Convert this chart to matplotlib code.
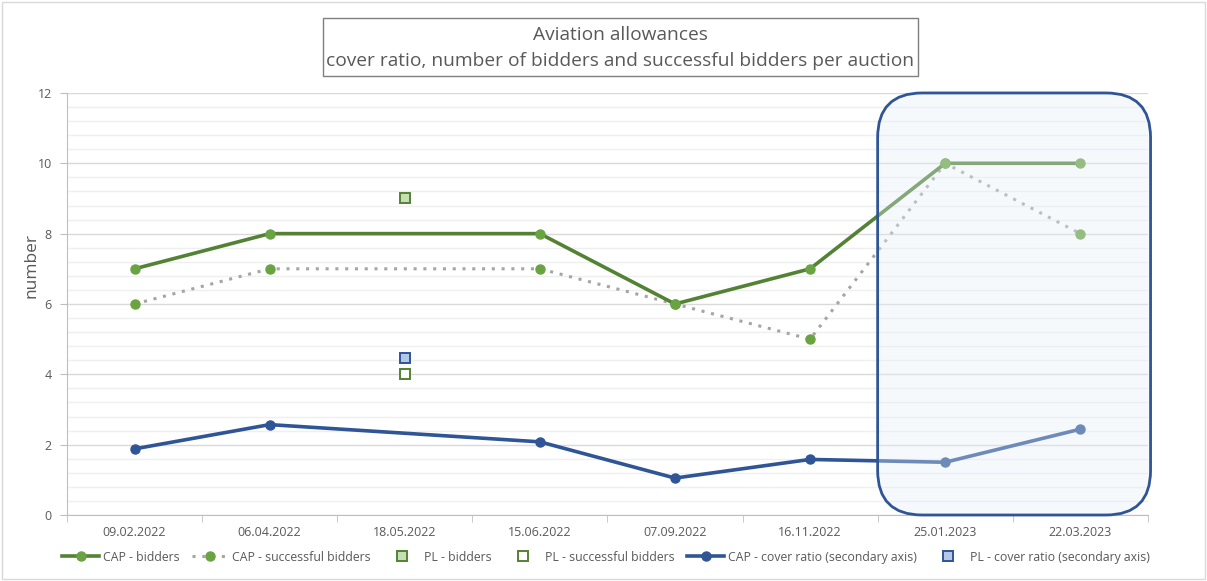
import numpy as np
import matplotlib.pyplot as plt
from matplotlib.patches import FancyBboxPatch, Rectangle
from matplotlib.ticker import MultipleLocator

plt.rcParams['font.family'] = ['Open Sans', 'DejaVu Sans']

# auction dates
dates = ['09.02.2022', '06.04.2022', '18.05.2022', '15.06.2022',
         '07.09.2022', '16.11.2022', '25.01.2023', '22.03.2023']

# CAP series (nan = no CAP auction)
cap_bidders = [7, 8, np.nan, 8, 6, 7, 10, 10]
cap_successful = [6, 7, np.nan, 7, 6, 5, 10, 8]
cap_cover = [1.88, 2.57, np.nan, 2.08, 1.05, 1.58, 1.50, 2.44]

# PL series (only one auction)
pl_bidders = [np.nan, np.nan, 9, np.nan, np.nan, np.nan, np.nan, np.nan]
pl_successful = [np.nan, np.nan, 4, np.nan, np.nan, np.nan, np.nan, np.nan]
pl_cover = [np.nan, np.nan, 4.45, np.nan, np.nan, np.nan, np.nan, np.nan]

green = '#548235'
green_m = '#6AA342'
blue = '#2F5597'
grey_txt = '#595959'

fig = plt.figure(figsize=(12.07, 5.81), dpi=100)
ax = fig.add_axes([0.0555, 0.1136, 0.8955, 0.7264])

x = np.arange(len(dates))


def valid(vals):
    v = np.array(vals, dtype=float)
    m = ~np.isnan(v)
    return x[m], v[m]


xs, ys = valid(cap_bidders)
h1, = ax.plot(xs, ys, color=green, lw=2.6, marker='o', ms=6.5,
              markerfacecolor=green_m, markeredgecolor=green_m, zorder=4,
              label='CAP - bidders')
xs, ys = valid(cap_successful)
h2, = ax.plot(xs, ys, color='#A5A5A5', lw=2.2, ls=(0, (1, 2.2)), marker='o', ms=6.5,
              markerfacecolor=green_m, markeredgecolor=green_m, zorder=3,
              label='CAP - successful bidders')
xs, ys = valid(pl_bidders)
h3, = ax.plot(xs, ys, ls='none', marker='s', ms=7.5, markerfacecolor='#C5E0B4',
              markeredgecolor=green, markeredgewidth=1.4, zorder=4, label='PL - bidders')
xs, ys = valid(pl_successful)
h4, = ax.plot(xs, ys, ls='none', marker='s', ms=7.5, markerfacecolor='white',
              markeredgecolor=green, markeredgewidth=1.4, zorder=4,
              label='PL - successful bidders')
xs, ys = valid(cap_cover)
h5, = ax.plot(xs, ys, color=blue, lw=2.6, marker='o', ms=6.5,
              markerfacecolor=blue, markeredgecolor=blue, zorder=4,
              label='CAP - cover ratio (secondary axis)')
xs, ys = valid(pl_cover)
h6, = ax.plot(xs, ys, ls='none', marker='s', ms=7.5, markerfacecolor='#B4C7E7',
              markeredgecolor=blue, markeredgewidth=1.4, zorder=4,
              label='PL - cover ratio (secondary axis)')

ax.set_xlim(-0.5, 7.5)
ax.set_ylim(0, 12)
ax.set_xticks(x)
ax.set_xticklabels(dates)
ax.set_xticks(np.arange(-0.5, 8, 1), minor=True)
ax.tick_params(axis='x', which='major', length=0, pad=8, labelsize=9, colors=grey_txt)
ax.tick_params(axis='x', which='minor', length=5, color='#BFBFBF', direction='out')
ax.yaxis.set_major_locator(MultipleLocator(2))
ax.yaxis.set_minor_locator(MultipleLocator(0.4))
ax.tick_params(axis='y', which='major', length=5, color='#BFBFBF', labelsize=9,
               colors=grey_txt, pad=6)
ax.tick_params(axis='y', which='minor', length=0)
ax.tick_params(axis='y', which='major', labelcolor=grey_txt)
ax.grid(axis='y', which='major', color='#D9D9D9', lw=1)
ax.grid(axis='y', which='minor', color='#EFEFEF', lw=1)
ax.set_axisbelow(True)
for s in ['top', 'right']:
    ax.spines[s].set_visible(False)
ax.spines['left'].set_color('#BFBFBF')
ax.spines['bottom'].set_color('#BFBFBF')
ax.set_ylabel('number', fontsize=12.5, color=grey_txt)
ax.yaxis.set_label_coords(-0.025, 0.59)

# highlight box around the 2023 auctions
box = FancyBboxPatch((5.5, 0.0), 2.02, 12.0,
                     boxstyle='round,pad=0,rounding_size=0.33',
                     mutation_aspect=3.84, facecolor='#E6EFF9', alpha=0.35,
                     edgecolor='none', zorder=5, clip_on=False)
ax.add_patch(box)
box2 = FancyBboxPatch((5.5, 0.0), 2.02, 12.0,
                      boxstyle='round,pad=0,rounding_size=0.33',
                      mutation_aspect=3.84, facecolor='none',
                      edgecolor='#2F5597', lw=2, zorder=6, clip_on=False)
ax.add_patch(box2)

# title box
fig.patches.append(Rectangle((323 / 1207, 1 - 76 / 581), 595 / 1207, 58 / 581,
                             transform=fig.transFigure, facecolor='white',
                             edgecolor='#7F7F7F', lw=1))
fig.text(0.514, 0.917, 'Aviation allowances\ncover ratio, number of bidders and successful bidders per auction',
         ha='center', va='center', fontsize=13.8, color=grey_txt, linespacing=1.55)

# outer frame
fig.patches.append(Rectangle((0.002, 0.003), 0.996, 0.994, transform=fig.transFigure,
                             facecolor='none', edgecolor='#D9D9D9', lw=1))

fig.legend(handles=[h1, h2, h3, h4, h5, h6], loc='center', bbox_to_anchor=(0.502, 0.041),
           ncol=6, frameon=False, fontsize=8.8, handlelength=3.0, columnspacing=1.05,
           handletextpad=0.3, labelcolor=grey_txt)

fig.savefig('out.png', dpi=100)
